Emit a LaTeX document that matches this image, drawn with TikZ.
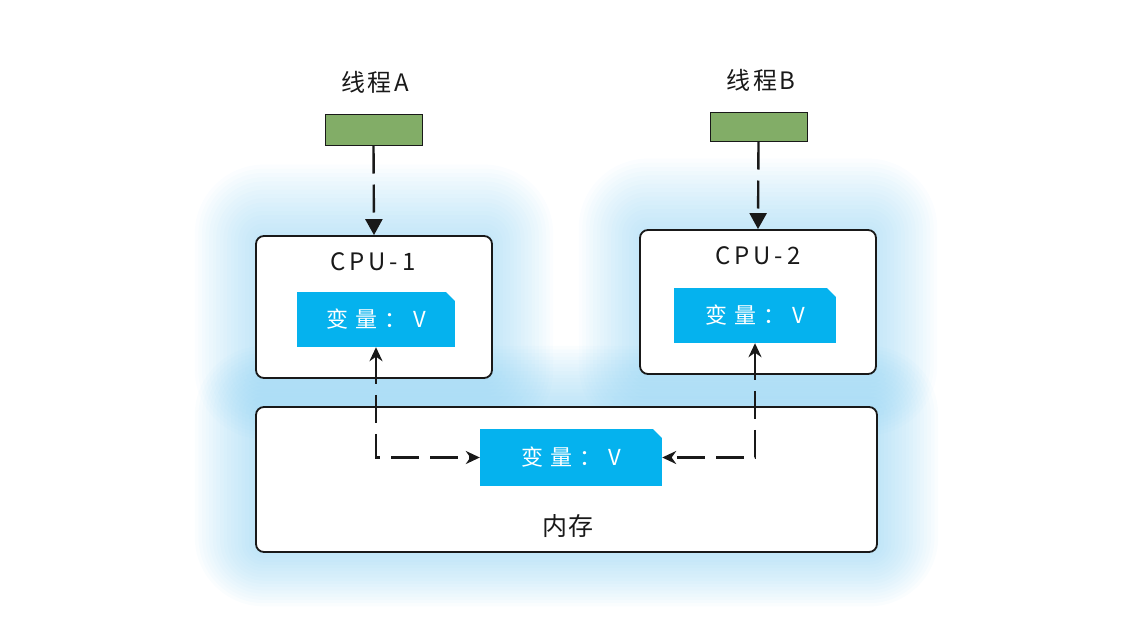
\documentclass[tikz,border=0pt]{standalone}
\usepackage{fontspec}
\setmainfont{Noto Sans CJK SC}
\usetikzlibrary{arrows.meta,calc}
\definecolor{glowc}{RGB}{120,200,240}
\definecolor{varc}{RGB}{5,178,238}
\definecolor{thrc}{RGB}{130,173,103}
\definecolor{inkc}{RGB}{25,25,25}
\tikzset{
  box/.style={draw=inkc, line width=1.8pt, rounded corners=8pt, fill=white, inner sep=0pt},
  varbox/.style={fill=varc, inner sep=0pt, text=white, font=\fontsize{22}{23}\selectfont\addfontfeature{LetterSpace=32},
    path picture={\fill[white] ([xshift=-9pt]path picture bounding box.north east) -- ([xshift=1pt,yshift=1pt]path picture bounding box.north east) -- ([yshift=-9pt]path picture bounding box.north east) -- cycle;}},
  thr/.style={draw=inkc, line width=1pt, fill=thrc, inner sep=0pt},
  lbl/.style={text=inkc, font=\fontsize{24}{25}\selectfont\addfontfeature{LetterSpace=10}},
  cpulbl/.style={text=inkc, font=\fontsize{24}{25}\selectfont\addfontfeature{LetterSpace=16}},
  conn/.style={draw=inkc, line width=2.4pt, dash pattern=on 28pt off 11pt},
  bigtip/.style={-{Triangle[length=16pt,width=17pt]}},
  bitip/.style={{Stealth[length=14pt,width=13pt]}-{Stealth[length=14pt,width=13pt]}}
}
\begin{document}
\begin{tikzpicture}[x=1pt,y=-1pt]
\useasboundingbox (0,0) rectangle (1142,640);
% glow
\foreach \i in {0,...,17}{
  \pgfmathsetmacro\rr{8+\i*3.6}
  \fill[glowc, opacity=0.032, rounded corners=\rr pt] ($(256,236)+(-\i*3.6,-\i*4.2)$) rectangle ($(492,378)+(\i*3.6,\i*3.6)$);
  \fill[glowc, opacity=0.032, rounded corners=\rr pt] ($(640,230)+(-\i*3.6,-\i*4.2)$) rectangle ($(876,374)+(\i*3.6,\i*3.6)$);
  \fill[glowc, opacity=0.036, rounded corners=\rr pt] ($(256,407)+(-\i*3.6,-\i*3.6)$) rectangle ($(877,552)+(\i*3.6,\i*3.2)$);
}
% boxes
\node[box, minimum width=236pt, minimum height=142pt] (cpu1) at (374,307) {};
\node[box, minimum width=236pt, minimum height=144pt] (cpu2) at (758,302) {};
\node[box, minimum width=621pt, minimum height=145pt] (mem) at (566.5,479.5) {};
% labels
\node[cpulbl] (c1l) at (373,262) {CPU-1};
\node[cpulbl] (c2l) at (758,256) {CPU-2};
\node[lbl, font=\fontsize{25}{26}\selectfont\addfontfeature{LetterSpace=4}] (meml) at (568,526) {内存};
\node[lbl] (tAl) at (375,82) {线程A};
\node[lbl] (tBl) at (761,80) {线程B};
% threads
\node[thr, minimum width=97pt, minimum height=31pt] (gA) at (373.5,129.5) {};
\node[thr, minimum width=97pt, minimum height=29pt] (gB) at (758.5,126.5) {};
% variables
\node[varbox, minimum width=158pt, minimum height=55pt] (vA) at (376,319.5) {变量：V};
\node[varbox, minimum width=162pt, minimum height=55pt] (vB) at (755,315.5) {变量：V};
\node[varbox, minimum width=182pt, minimum height=57pt] (vM) at (571,457.5) {变量：V};
% connectors
\draw[conn, bigtip] (gA.south) -- (cpu1.north);
\draw[conn, bigtip] (gB.south) -- (cpu2.north);
\draw[conn, bitip] (vA.south) |- (vM.west);
\draw[conn, bitip] (vB.south) |- (vM.east);
\end{tikzpicture}
\end{document}
